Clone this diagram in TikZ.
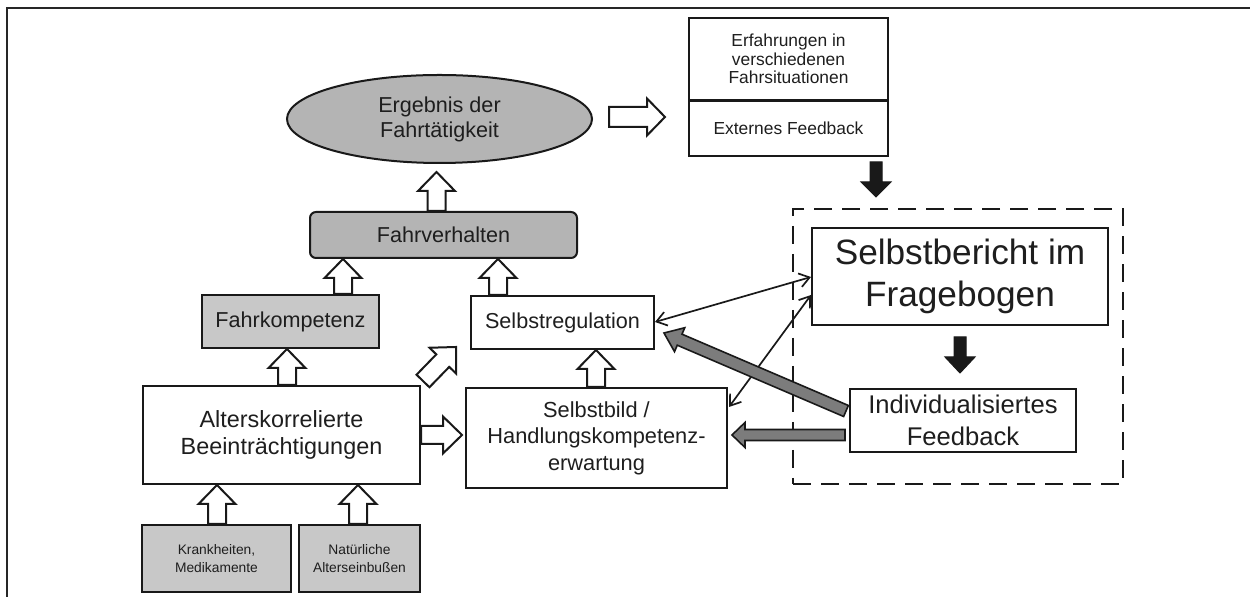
\documentclass[tikz,border=0pt]{standalone}
\usepackage{fontspec}
\setmainfont{Liberation Sans}
\usetikzlibrary{calc,shapes.geometric,arrows.meta}
\definecolor{txt}{HTML}{1E1E1E}
\definecolor{gdark}{HTML}{B4B4B4}
\definecolor{glight}{HTML}{C8C8C8}
\definecolor{garrow}{HTML}{7C7C7C}
\tikzset{
  box/.style={draw=black!90, line width=1pt, align=center, text=txt, inner sep=0pt},
  whitearrow/.style={draw=black!90, fill=white, line width=1pt, line join=miter},
  blackarrow/.style={draw=black!90, fill=black!90, line width=0.5pt},
  grayarrow/.style={draw=black!90, fill=garrow, line width=0.8pt},
  thinarrow/.style={draw=black!90, line width=0.85pt, {Straight Barb[length=5pt,width=7pt]}-{Straight Barb[length=5pt,width=7pt]}},
  dashbox/.style={draw=black!90, line width=1pt, dash pattern=on 9pt off 5pt},
}
% #1 style, #2 start, #3 end, #4 shaft half width, #5 head half width, #6 head length
\newcommand\blockarr[6]{%
  \coordinate (hb) at ($(#3)!#6!(#2)$);
  \draw[#1] ($(#2)!#4!90:(#3)$) -- ($(hb)!#4!90:(#3)$) -- ($(hb)!#5!90:(#3)$) -- (#3)
    -- ($(hb)!#5!-90:(#3)$) -- ($(hb)!#4!-90:(#3)$) -- ($(#2)!#4!-90:(#3)$) -- cycle;
}
\begin{document}
\begin{tikzpicture}[x=0.5pt,y=-0.5pt]
\useasboundingbox (0,0) rectangle (1250,597);
% frame
\draw[black!85, line width=1pt] (7,597) -- (7,8) -- (1250,8);

% nodes
\node[box, ellipse, fill=gdark, minimum width=152.5pt, minimum height=44pt, font=\fontsize{10.8}{12.5}\selectfont] (erg) at (439.5,119) {Ergebnis der\\Fahrtätigkeit};
\node[box, rounded corners=3pt, fill=gdark, minimum width=133.5pt, minimum height=23pt, font=\fontsize{10.8}{12.5}\selectfont] (fv) at (443.5,235) {Fahrverhalten};
\node[box, fill=glight, minimum width=88.5pt, minimum height=26.5pt, font=\fontsize{10.8}{12.5}\selectfont] (fk) at (290.5,321.5) {Fahrkompetenz};
\node[box, minimum width=138.5pt, minimum height=49pt, font=\fontsize{11.7}{13.8}\selectfont] (ak) at (281.5,435) {Alterskorrelierte\\Beeinträchtigungen};
\node[box, fill=glight, minimum width=74.5pt, minimum height=33.5pt, font=\fontsize{6.9}{8.8}\selectfont] (kr) at (216.5,558.5) {Krankheiten,\\Medikamente};
\node[box, fill=glight, minimum width=60.5pt, minimum height=33.5pt, font=\fontsize{6.9}{8.8}\selectfont] (na) at (359.5,558.5) {Natürliche\\Alterseinbußen};
\node[box, minimum width=91.5pt, minimum height=26.5pt, font=\fontsize{10.8}{12.5}\selectfont] (sr) at (562.5,322.5) {Selbstregulation};
\node[box, minimum width=130.5pt, minimum height=50pt, font=\fontsize{10.9}{13.3}\selectfont] (sb) at (596.5,438) {Selbstbild /\\Handlungskompetenz-\\erwartung};
\node[box, minimum width=99.5pt, minimum height=41pt, font=\fontsize{8.7}{9.2}\selectfont] (ef) at (788.5,59) {Erfahrungen in\\verschiedenen\\Fahrsituationen};
\node[box, minimum width=99.5pt, minimum height=27.5pt, font=\fontsize{8.7}{9.2}\selectfont, anchor=north, yshift=0.5pt] (ex) at (ef.south) {Externes Feedback};
\node[box, dashbox, minimum width=165pt, minimum height=137.5pt] (db) at (958,346.5) {};
\node[box, minimum width=148pt, minimum height=48.5pt, font=\fontsize{17.6}{20.8}\selectfont] (sf) at (960,276.5) {Selbstbericht im\\Fragebogen};
\node[box, minimum width=113pt, minimum height=31.5pt, font=\fontsize{12.8}{15.8}\selectfont] (ind) at (963,420.5) {Individualisiertes\\Feedback};

% white block arrows
\coordinate (a1s) at (fv.north -| 436.5,0);
\coordinate (a1e) at (436.5,172);
\blockarr{whitearrow}{a1s}{a1e}{4.5pt}{9.25pt}{9.5pt}
\coordinate (a2s) at (fk.north -| 343,0);
\coordinate (a2e) at (fv.south -| 343,0);
\blockarr{whitearrow}{a2s}{a2e}{4.5pt}{9.25pt}{9.5pt}
\coordinate (a3s) at (ak.north -| 287,0);
\coordinate (a3e) at (fk.south -| 287,0);
\blockarr{whitearrow}{a3s}{a3e}{4.5pt}{9.25pt}{9.5pt}
\coordinate (a4s) at (kr.north -| 217,0);
\coordinate (a4e) at (ak.south -| 217,0);
\blockarr{whitearrow}{a4s}{a4e}{4.5pt}{9.25pt}{9.5pt}
\coordinate (a5s) at (na.north -| 358,0);
\coordinate (a5e) at (ak.south -| 358,0);
\blockarr{whitearrow}{a5s}{a5e}{4.5pt}{9.25pt}{9.5pt}
\coordinate (a6s) at (sr.north -| 498,0);
\coordinate (a6e) at (fv.south -| 498,0);
\blockarr{whitearrow}{a6s}{a6e}{4.5pt}{9.25pt}{9.5pt}
\coordinate (a7s) at (sb.north -| 596,0);
\coordinate (a7e) at (sr.south -| 596,0);
\blockarr{whitearrow}{a7s}{a7e}{4.5pt}{9.25pt}{9.5pt}
\coordinate (a8s) at (ak.east |- 0,435);
\coordinate (a8e) at (462,435);
\blockarr{whitearrow}{a8s}{a8e}{4.5pt}{9.25pt}{9.5pt}
\coordinate (a9s) at (423,381);
\coordinate (a9e) at (456,347);
\blockarr{whitearrow}{a9s}{a9e}{4.5pt}{9.25pt}{9.5pt}
\coordinate (a10s) at (609,117);
\coordinate (a10e) at (665,117);
\blockarr{whitearrow}{a10s}{a10e}{5pt}{9.25pt}{9pt}

% black arrows
\coordinate (b1s) at (876,162);
\coordinate (b1e) at (876,197);
\blockarr{blackarrow}{b1s}{b1e}{3pt}{7.5pt}{7.5pt}
\coordinate (b2s) at (960,337);
\coordinate (b2e) at (960,373);
\blockarr{blackarrow}{b2s}{b2e}{3pt}{7.5pt}{8pt}

% thin double arrows
\draw[thinarrow] (sr.east |- 0,322) -- (sf.west |- 0,277);
\draw[thinarrow] (729,407) -- (sf.west |- 0,295);

% gray arrows
\coordinate (g1s) at (846,411);
\coordinate (g1e) at (664,333);
\blockarr{grayarrow}{g1s}{g1e}{3pt}{6.5pt}{8.5pt}
\coordinate (g2s) at (845,435);
\coordinate (g2e) at (732,435);
\blockarr{grayarrow}{g2s}{g2e}{2.75pt}{6.25pt}{6.5pt}
\end{tikzpicture}
\end{document}
